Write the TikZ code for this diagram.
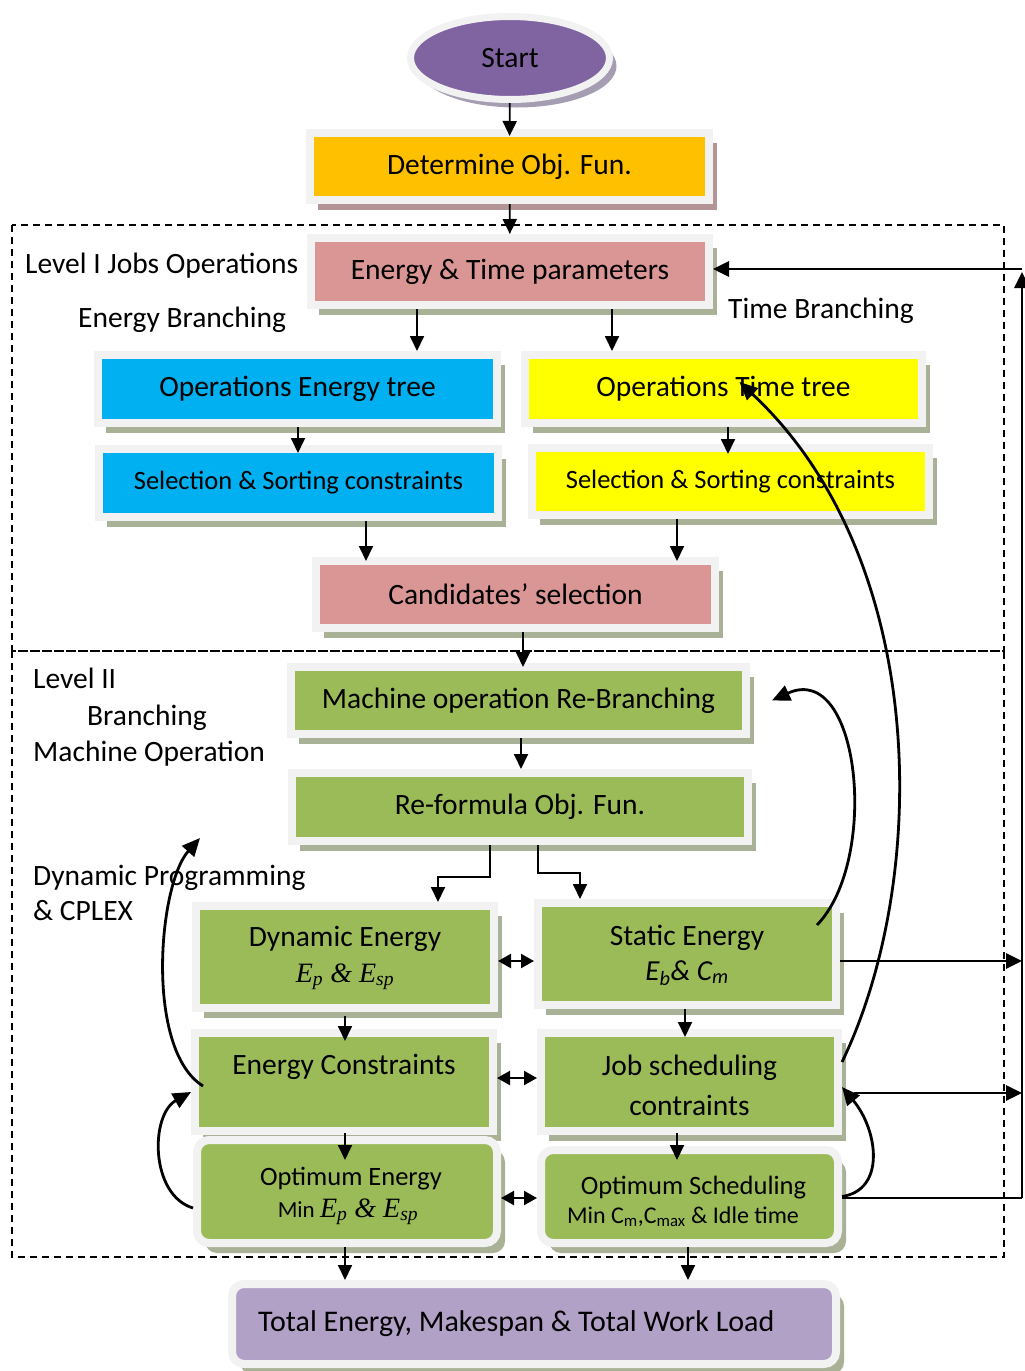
\documentclass[tikz,border=0pt]{standalone}
\usepackage{fontspec}
\setmainfont{Carlito}
\newfontfamily\tmsfont{Liberation Serif}
\usetikzlibrary{arrows.meta,shapes.geometric,shadows}
\definecolor{frm}{HTML}{F2F2F2}
\definecolor{shd}{HTML}{A9B196}
\definecolor{shdm}{HTML}{B39595}
\definecolor{shdp}{HTML}{A59DB2}
\definecolor{cPurple}{HTML}{8064A2}
\definecolor{cOrange}{HTML}{FFC000}
\definecolor{cPink}{HTML}{D99694}
\definecolor{cBlue}{HTML}{00B0F0}
\definecolor{cYellow}{HTML}{FFFF00}
\definecolor{cGreen}{HTML}{9BBB59}
\definecolor{cLilac}{HTML}{B2A1C7}
\tikzset{
  bx/.style={draw=frm, line width=8pt, inner sep=0pt, outer sep=4pt, align=center,
    font=\fontsize{29.5}{35}\selectfont,
    general shadow={fill=#1, shadow xshift=8pt, shadow yshift=-10pt}},
  bx/.default=shd,
  rbx/.style={bx, rounded corners=12pt},
  lbl/.style={inner sep=0pt, anchor=base west, font=\fontsize{29.5}{35}\selectfont},
  txt/.style={inner sep=0pt, anchor=base, font=\fontsize{29.5}{35}\selectfont},
  arr/.style={line width=1.8pt, -{Triangle[length=15pt,width=14pt]}, shorten >=-4pt},
  darr/.style={line width=2.2pt, {Triangle[length=13pt,width=14pt]}-{Triangle[length=13pt,width=14pt]}},
  carr/.style={line width=2.8pt, -{Triangle[length=18pt,width=16pt]}},
  rline/.style={line width=2.8pt},
  rarr/.style={line width=2.8pt, -{Triangle[length=16pt,width=15pt]}},
  dbox/.style={line width=1.4pt, dash pattern=on 7pt off 5pt},
}
\begin{document}
\begin{tikzpicture}[x=1pt,y=-1pt]
\useasboundingbox (0,0) rectangle (1025,1371);
% dashed level frames
\draw[dbox] (12,225) rectangle (1004,651);
\draw[dbox] (12,651) rectangle (1004,1257);
% nodes
\node[draw=frm, line width=7pt, fill=cPurple, ellipse, minimum width=199pt, minimum height=83pt,
  inner sep=0pt, outer sep=3.5pt, font=\fontsize{29.5}{35}\selectfont,
  general shadow={fill=shdp, shadow xshift=7pt, shadow yshift=-8pt}] (start) at (510,58) {Start};
\node[bx=shdm, fill=cOrange, minimum width=399pt, minimum height=67pt] (det) at (509.5,166.5) {Determine Obj. Fun.};
\node[bx, fill=cPink, minimum width=398pt, minimum height=67pt] (et) at (510,271.5) {Energy \& Time parameters};
\node[bx, fill=cBlue, minimum width=399pt, minimum height=68pt] (oe) at (297.5,389) {Operations Energy tree};
\node[bx, fill=cBlue, minimum width=399pt, minimum height=68pt, font=\fontsize{26.5}{32}\selectfont] (ssb) at (298.5,483) {Selection \& Sorting constraints};
\node[bx, fill=cYellow, minimum width=397pt, minimum height=68pt] (ot) at (723.5,389) {Operations Time tree};
\node[bx, fill=cYellow, minimum width=397pt, minimum height=67pt, font=\fontsize{26.5}{32}\selectfont] (ssy) at (730.5,481.5) {Selection \& Sorting constraints};
\node[bx, fill=cPink, minimum width=399pt, minimum height=67pt] (cand) at (515.5,594.5) {Candidates’ selection};
\node[bx, fill=cGreen, minimum width=455pt, minimum height=67pt] (mo) at (518.5,700.5) {Machine operation Re-Branching};
\node[bx, fill=cGreen, minimum width=456pt, minimum height=68pt] (rf) at (520,807) {Re-formula Obj. Fun.};
\node[bx, fill=cGreen, minimum width=298pt, minimum height=102pt] (de) at (345,957) {};
\node[bx, fill=cGreen, minimum width=298pt, minimum height=102pt] (se) at (687,954) {};
\node[bx, fill=cGreen, minimum width=298pt, minimum height=98pt] (ec) at (344,1082) {};
\node[bx, fill=cGreen, minimum width=297pt, minimum height=98pt] (js) at (689.5,1082) {};
\node[rbx, fill=cGreen, minimum width=300pt, minimum height=103pt] (oen) at (347,1191.5) {};
\node[rbx, fill=cGreen, minimum width=297pt, minimum height=93pt] (os) at (689.5,1196.5) {};
\node[rbx, fill=cLilac, minimum width=604pt, minimum height=80pt] (tot) at (534,1324) {};
% texts inside multi-line boxes
\node[txt] (de-t1) at (345,946) {Dynamic Energy};
\node[txt, font={\fontsize{28}{34}\tmsfont\itshape}] (de-t2) at (345,982) {E\textsubscript{p} \& E\textsubscript{sp}};
\node[txt] (se-t1) at (687,945) {Static Energy};
\node[txt, font={\fontsize{29}{35}\selectfont\itshape}] (se-t2) at (687,980) {E\textsubscript{b}\& C\textsubscript{m}};
\node[txt] (ec-t) at (344,1074) {Energy Constraints};
\node[txt] (js-t1) at (689.5,1075) {Job scheduling};
\node[txt] (js-t2) at (689.5,1115) {contraints};
\node[txt, font=\fontsize{26.5}{32}\selectfont] (oen-t1) at (351,1185) {Optimum Energy};
\node[txt, font=\fontsize{23}{28}\selectfont] (oen-t2) at (348,1217) {Min {\fontsize{28}{34}\tmsfont\itshape E\textsubscript{p} \& E\textsubscript{sp}}};
\node[txt, font=\fontsize{26.5}{32}\selectfont] (os-t1) at (693.5,1194) {Optimum Scheduling};
\node[txt, font=\fontsize{24}{30}\selectfont] (os-t2) at (683,1223) {Min C\textsubscript{m},C\textsubscript{max} \& Idle time};
\node[lbl, font=\fontsize{30}{36}\selectfont] (tot-t) at (258,1331) {Total Energy, Makespan \& Total Work Load};
% free labels
\node[lbl] (l1) at (25,273) {Level I Jobs Operations};
\node[lbl] (l2) at (78,327) {Energy Branching};
\node[lbl] (l3) at (728,318) {Time Branching};
\node[lbl] (l4) at (33,688) {Level II};
\node[lbl] (l5) at (87,725) {Branching};
\node[lbl] (l6) at (33,761) {Machine Operation};
\node[lbl] (l7) at (33,885) {Dynamic Programming};
\node[lbl] (l8) at (33,920) {\& CPLEX};
% straight arrows
\draw[arr, shorten >=-7pt] (start) -- (det);
\draw[arr, shorten >=0pt] (det) -- (et);
\draw[arr, shorten >=0pt] (et.south -| 417,0) -- (oe.north -| 417,0);
\draw[arr, shorten >=0pt] (et.south -| 612,0) -- (ot.north -| 612,0);
\draw[arr, shorten >=-8pt] (oe.south -| 298,0) -- (ssb.north -| 298,0);
\draw[arr, shorten >=-10pt] (ot.south -| 728,0) -- (ssy.north -| 728,0);
\draw[arr] (ssb.south -| 366,0) -- (cand.north -| 366,0);
\draw[arr] (ssy.south -| 677,0) -- (cand.north -| 677,0);
\draw[arr] (cand.south -| 523,0) -- (mo.north -| 523,0);
\draw[arr, shorten >=0pt] (mo.south -| 521,0) -- (rf.north -| 521,0);
\draw[arr, shorten >=0pt] (rf.south -| 490,0) -- (490,877) -- (438,877) -- (de.north -| 438,0);
\draw[arr, shorten >=0pt] (rf.south -| 538,0) -- (538,873) -- (580,873) -- (se.north -| 580,0);
\draw[arr, shorten <=4pt, shorten >=-12pt] (de.south -| 345,0) -- (ec.north -| 345,0);
\draw[arr, shorten >=-8pt] (se.south -| 685,0) -- (js.north -| 685,0);
\draw[arr, shorten <=-2pt, shorten >=-24pt] (ec.south -| 345,0) -- (oen.north -| 345,0);
\draw[arr, shorten <=-2pt, shorten >=-14pt] (js.south -| 677,0) -- (os.north -| 677,0);
\draw[arr, shorten >=0pt] (oen.south -| 345,0) -- (tot.north -| 345,0);
\draw[arr, shorten >=0pt] (os.south -| 688,0) -- (tot.north -| 688,0);
% double arrows
\draw[darr] (de.east |- 0,961) -- (se.west |- 0,961);
\draw[darr] (ec.east |- 0,1078) -- (js.west |- 0,1078);
\draw[darr] (oen.east |- 0,1198) -- (os.west |- 0,1198);
% curved feedback arrows
\coordinate (dptip) at (200,838);
\draw[carr] ([xshift=12pt,yshift=-4pt]ec.west) .. controls (145,1050) and (158,885) .. (dptip);
\draw[carr] ([yshift=-16.5pt]oen.west) .. controls (150,1195) and (150,1115) .. ([yshift=-10pt]ec.west);
\draw[carr] ([xshift=-23pt,yshift=-26pt]se.north east) .. controls (880,860) and (860,660) .. ([xshift=22pt]mo.east);
\draw[carr] ([yshift=20pt]js.east) .. controls (930,880) and (930,560) .. ([xshift=16pt,yshift=7pt]ot.center);
\draw[carr] (os.east) .. controls (886,1190) and (878,1130) .. ([yshift=-5pt]js.east);
% right-side feedback bus
\coordinate (rc1) at (1022,1198);
\coordinate (rc2) at (1022,269);
\draw[rline] ([yshift=-1.5pt]os.east) -- (rc1);
\draw[rarr] (rc1) -- ([yshift=-3pt]rc2);
\draw[rarr] (rc2) -- (et.east |- rc2);
\draw[rarr] (se.east |- 0,961) -- (rc1 |- 0,961);
\draw[rarr] ([xshift=12pt,yshift=-11pt]js.east) -- (rc1 |- 0,1093);
\end{tikzpicture}
\end{document}
